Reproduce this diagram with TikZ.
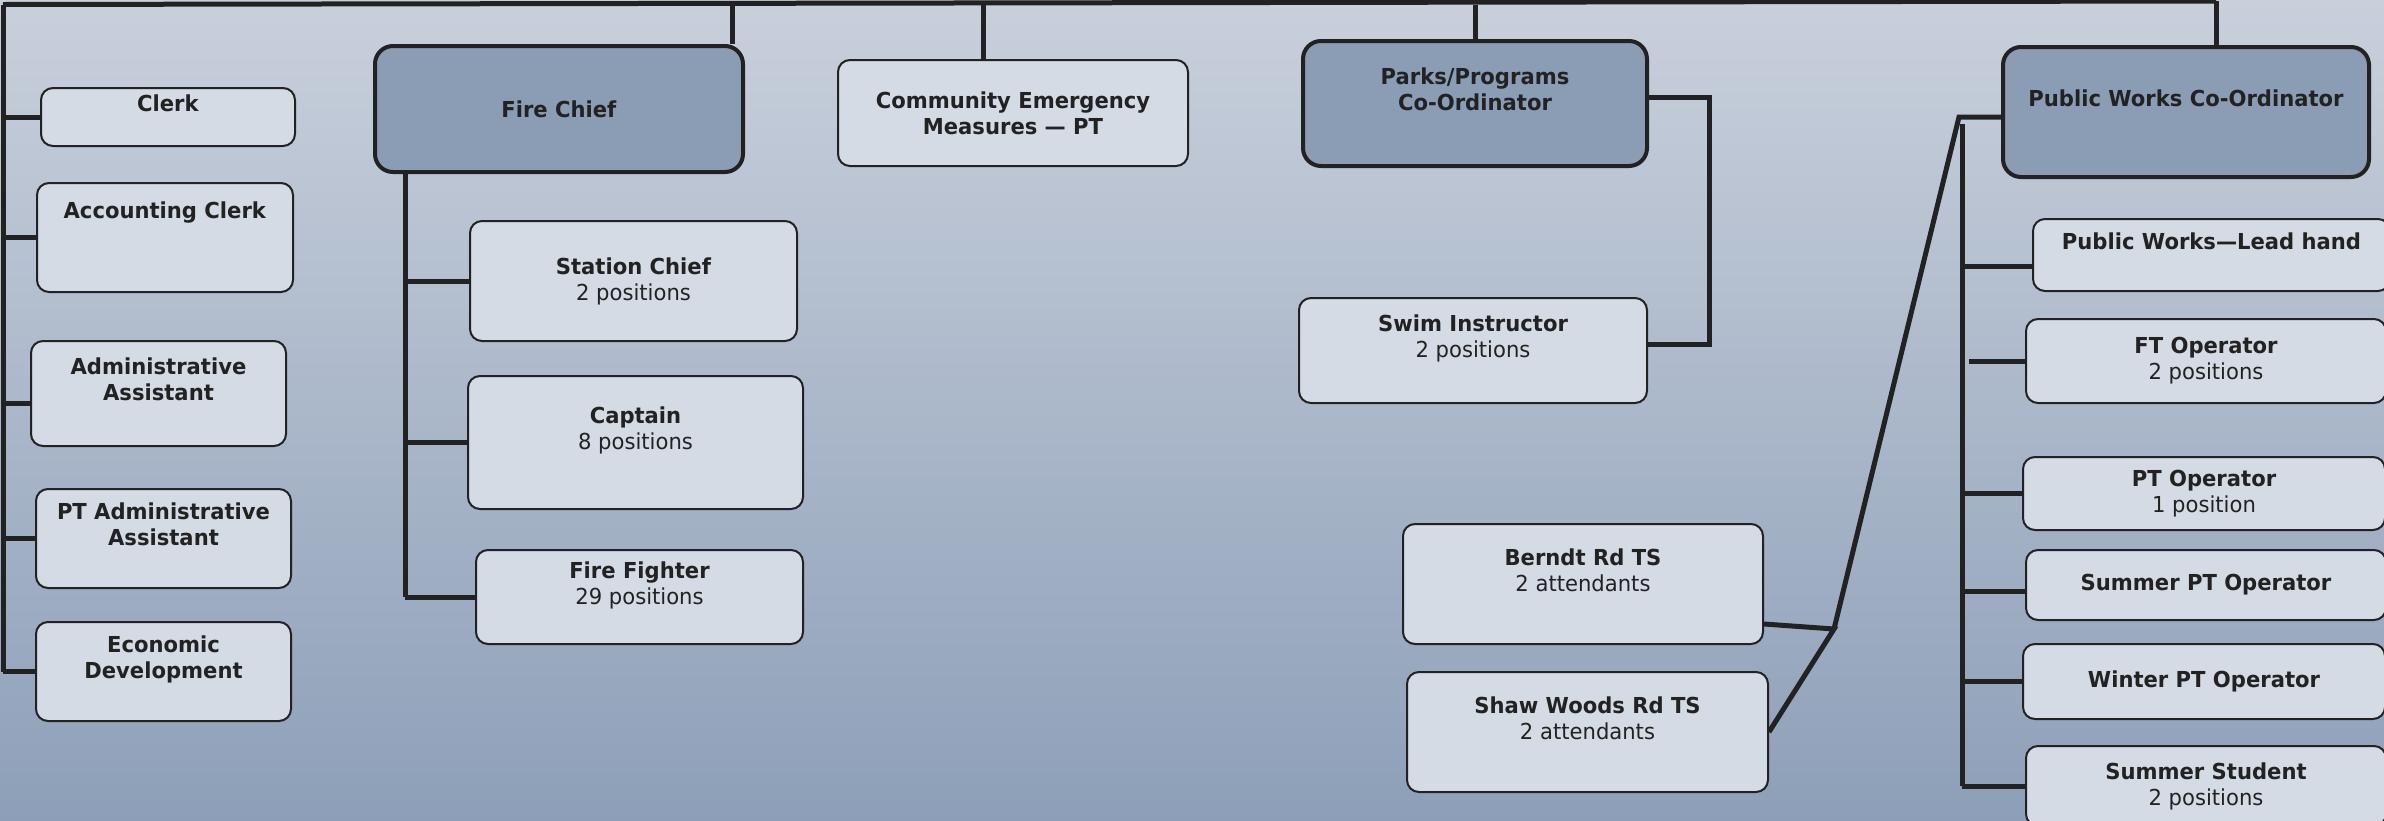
\documentclass[tikz,border=0pt]{standalone}
\usepackage{fontspec}
\setmainfont[FakeStretch=0.96]{DejaVu Sans}
\definecolor{bgtop}{HTML}{C9D0DC}
\definecolor{bgbot}{HTML}{8D9FB8}
\definecolor{boxfill}{HTML}{D4DBE5}
\definecolor{headfill}{HTML}{8A9DB5}
\definecolor{ink}{HTML}{222222}
\tikzset{
  wh/.style 2 args={minimum width=#1*0.5pt, minimum height=#2*0.5pt},
  unit/.style={draw=ink, line width=1pt, rounded corners=6pt, fill=boxfill,
    align=center, text=ink, inner sep=2pt, font=\fontsize{11}{13}\selectfont},
  head/.style={unit, fill=headfill, line width=2pt, rounded corners=9pt},
  wire/.style={draw=ink, line width=2.5pt},
}
\newcommand{\ttl}[1]{\textbf{#1}}
\newcommand{\pad}{\\[-3pt]\strut}
\begin{document}
\begin{tikzpicture}[x=0.5pt, y=-0.5pt]
\useasboundingbox (0,0) rectangle (2384,820);
\clip (0,0) rectangle (2384,820);
\shade[top color=bgtop, bottom color=bgbot] (0,0) rectangle (2384,820);

% office staff
\node[unit, wh={254}{58}] (clerk) at (168,117) {\ttl{Clerk}\pad};
\node[unit, wh={256}{109}] (acct) at (165,237.5) {\ttl{Accounting Clerk}\\\strut\pad};
\node[unit, wh={255}{105}] (admin) at (158.5,393.5) {\ttl{Administrative}\\\ttl{Assistant}\pad};
\node[unit, wh={255}{99}] (ptadmin) at (163.5,538.5) {\ttl{PT Administrative}\\\ttl{Assistant}\pad};
\node[unit, wh={255}{99}] (econ) at (163.5,671.5) {\ttl{Economic}\\\ttl{Development}\pad};

% fire department
\node[head, wh={368}{126}] (firechief) at (559,109) {\ttl{Fire Chief}};
\node[unit, wh={327}{120}] (station) at (633.5,281) {\ttl{Station Chief}\\2 positions};
\node[unit, wh={335}{133}] (captain) at (635.5,442.5) {\ttl{Captain}\\8 positions\pad};
\node[unit, wh={327}{94}] (fighter) at (639.5,597) {\ttl{Fire Fighter}\\29 positions\pad};

\node[unit, wh={350}{106}] (cem) at (1013,113) {\ttl{Community Emergency}\\\ttl{Measures — PT}};

% parks
\node[head, wh={344}{125}] (parks) at (1475,103.5) {\ttl{Parks/Programs}\\\ttl{Co-Ordinator}\pad};
\node[unit, wh={348}{105}] (swim) at (1473,350.5) {\ttl{Swim Instructor}\\2 positions\pad};

% transfer stations
\node[unit, wh={360}{120}] (berndt) at (1583,584) {\ttl{Berndt Rd TS}\\2 attendants\pad};
\node[unit, wh={361}{120}] (shaw) at (1587.5,732) {\ttl{Shaw Woods Rd TS}\\2 attendants\pad};

% public works
\node[head, wh={366}{130}] (pwc) at (2186,112) {\ttl{Public Works Co-Ordinator}\pad};
\node[unit, wh={357}{72}] (lead) at (2211.5,255) {\ttl{Public Works—Lead hand}\pad};
\node[unit, wh={360}{84}] (ftop) at (2206,361) {\ttl{FT Operator}\\2 positions};
\node[unit, wh={362}{73}] (ptop) at (2204,493.5) {\ttl{PT Operator}\\1 position};
\node[unit, wh={360}{70}] (sumpt) at (2206,585) {\ttl{Summer PT Operator}};
\node[unit, wh={362}{75}] (winpt) at (2204,681.5) {\ttl{Winter PT Operator}};
\node[unit, wh={360}{80}] (sumst) at (2206,786) {\ttl{Summer Student}\\2 positions};

% top bus and drops
\coordinate (root) at (3,4.5);
\coordinate (busend) at (2216,1);
\path[wire] (root) -- (busend);
\coordinate (fc-top) at ([xshift=-6.5pt]firechief.north east);
\coordinate (cem-top) at ([xshift=-15pt]cem.north);
\coordinate (pw-top) at ([xshift=15pt]pwc.north);
\path[wire] (fc-top) -- (fc-top |- root);
\path[wire] (cem-top) -- (cem-top |- root);
\path[wire] (parks.north) -- (parks.north |- root);
\path[wire] (pw-top) -- (pw-top |- busend);

% office spine
\coordinate (admin-in) at ([yshift=-5pt]admin.west);
\path[wire] (root) -- (root |- econ.west);
\path[wire] (root |- clerk.west) -- (clerk.west);
\path[wire] (root |- acct.west) -- (acct.west);
\path[wire] (root |- admin-in) -- (admin-in);
\path[wire] (root |- ptadmin.west) -- (ptadmin.west);
\path[wire] (root |- econ.west) -- (econ.west);

% fire spine
\coordinate (fcspine) at ([xshift=16pt]firechief.south west);
\path[wire] (fcspine) -- (fcspine |- fighter.west);
\path[wire] (fcspine |- station.west) -- (station.west);
\path[wire] (fcspine |- captain.west) -- (captain.west);
\path[wire] (fcspine |- fighter.west) -- (fighter.west);

% parks link
\path[wire] ([yshift=3pt]parks.east) -- ++(60,0) |- ([yshift=3pt]swim.east);

% transfer stations to public works
\coordinate (tsjoin) at (1834,629);
\coordinate (tstop) at (1959,117);
\path[wire] ([yshift=10.5pt]berndt.south east) -- (tsjoin) -- (shaw.east);
\path[wire] (tsjoin) -- (tstop) -- (tstop -| pwc.west);

% public works spine
\coordinate (pwspine) at (1962,124);
\coordinate (lead-in) at ([yshift=-5.5pt]lead.west);
\coordinate (sumpt-in) at ([yshift=-3pt]sumpt.west);
\path[wire] (pwspine) -- (pwspine |- sumst.west);
\path[wire] (pwspine |- lead-in) -- (lead-in);
\path[wire] (ftop.west) -- ++(-56,0);
\path[wire] (pwspine |- ptop.west) -- (ptop.west);
\path[wire] (pwspine |- sumpt-in) -- (sumpt-in);
\path[wire] (pwspine |- winpt.west) -- (winpt.west);
\path[wire] (pwspine |- sumst.west) -- (sumst.west);
\end{tikzpicture}
\end{document}
